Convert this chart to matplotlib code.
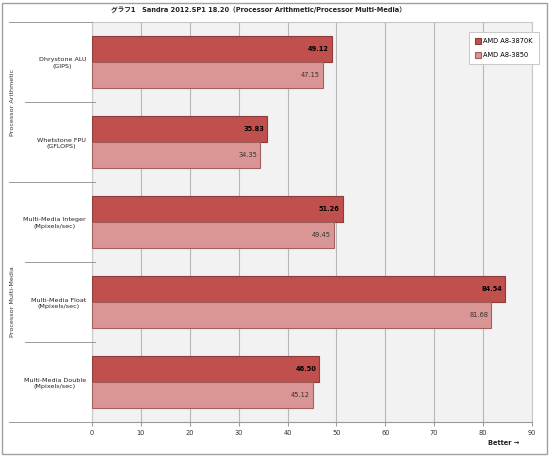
import matplotlib
matplotlib.use("Agg")
import matplotlib.pyplot as plt
from matplotlib.lines import Line2D
from matplotlib.patches import Rectangle
import numpy as np

plt.rcParams['font.family'] = ['DejaVu Sans', 'Noto Sans CJK JP']

categories = ["Dhrystone ALU\n(GIPS)", "Whetstone FPU\n(GFLOPS)", "Multi-Media Integer\n(Mpixels/sec)",
              "Multi-Media Float\n(Mpixels/sec)", "Multi-Media Double\n(Mpixels/sec)"]
series_names = ["AMD A8-3870K", "AMD A8-3850"]
a8_3870k = [49.12, 35.83, 51.26, 84.54, 46.50]
a8_3850 = [47.15, 34.35, 49.45, 81.68, 45.12]
groups = ["Processor Arithmetic", "Processor Multi-Media"]
xticks = [0, 10, 20, 30, 40, 50, 60, 70, 80, 90]
title = "グラフ1　Sandra 2012.SP1 18.20（Processor Arithmetic/Processor Multi-Media）"

W, H = 550, 457
fig = plt.figure(figsize=(W/100, H/100), dpi=100)
fig.patch.set_facecolor('white')

def fx(px): return px / W
def fy(py): return 1 - py / H

L, R, T, B = 92, 532, 22, 422
ax = fig.add_axes([fx(L), fy(B), (R-L)/W, (B-T)/H])
ax.set_facecolor('#f2f2f2')

y = np.arange(len(categories))
h = 0.33
dark, light = '#C0504D', '#D99694'
b1 = ax.barh(y - h/2, a8_3870k, height=h, color=dark, edgecolor='#8E3B39', linewidth=0.8, label=series_names[0], zorder=3)
b2 = ax.barh(y + h/2, a8_3850, height=h, color=light, edgecolor='#A0605E', linewidth=0.8, label=series_names[1], zorder=3)

for bar, v in zip(b1, a8_3870k):
    ax.annotate(f"{v:.2f}", (v, bar.get_y() + bar.get_height()/2), xytext=(-3, 0), textcoords='offset pixels',
                ha='right', va='center', fontsize=4.8, fontweight='bold', color='black', zorder=4)
for bar, v in zip(b2, a8_3850):
    ax.annotate(f"{v:.2f}", (v, bar.get_y() + bar.get_height()/2), xytext=(-3, 0), textcoords='offset pixels',
                ha='right', va='center', fontsize=4.8, color='#333333', zorder=4)

ax.set_xlim(0, 90)
ax.set_ylim(len(categories) - 0.5, -0.5)
ax.set_xticks(xticks)
ax.set_xticklabels([str(t) for t in xticks], fontsize=4.8, color='#333333')
ax.tick_params(axis='x', length=3, width=0.6, color='#888888', pad=3)
ax.set_yticks(y)
ax.set_yticklabels(categories, fontsize=4.6, ha='right', multialignment='center', color='#222222', linespacing=1.4)
ax.tick_params(axis='y', length=0, pad=4.3)
ax.grid(axis='x', color='#b8b8b8', linewidth=0.8, zorder=0)
ax.set_axisbelow(True)
for s in ['left', 'top', 'right']:
    ax.spines[s].set_color('#c8c8c8')
    ax.spines[s].set_linewidth(0.8)
ax.spines['bottom'].set_color('#999999')
ax.spines['bottom'].set_linewidth(0.8)

# category separators (multi-level axis)
sep_col = '#999999'
def hline(x0, x1, py):
    fig.add_artist(Line2D([fx(x0), fx(x1)], [fy(py), fy(py)], color=sep_col, lw=0.7))
hline(9, L, T)
hline(25, 95, 102)
hline(9, 95, 182)
hline(25, 95, 262)
hline(25, 95, 342)
hline(9, L, B)

fig.text(fx(13), fy(102), groups[0], rotation=90, ha='center', va='center', fontsize=4.6, color='#333333')
fig.text(fx(13), fy(302), groups[1], rotation=90, ha='center', va='center', fontsize=4.6, color='#333333')

fig.text(fx(258), fy(10), title, ha='center', va='center', fontsize=4.8, fontweight='bold', color='#222222')
fig.text(fx(519), fy(443), "Better →", ha='right', va='center', fontsize=4.8, fontweight='bold', color='#222222')

leg = fig.legend(handles=[b1, b2], labels=series_names, loc='upper left',
                 bbox_to_anchor=(fx(466), fy(29)), fontsize=4.8, frameon=True, fancybox=False,
                 edgecolor='#c8c8c8', framealpha=1, handlelength=0.8, handleheight=0.8,
                 handletextpad=0.4, labelspacing=1.2, borderpad=0.9)
leg.get_frame().set_linewidth(0.7)

fig.add_artist(Rectangle((fx(2), fy(454)), fx(545), (451)/H, fill=False, edgecolor='#a0a0a0', lw=1.0))

fig.savefig("out.png", dpi=100)
